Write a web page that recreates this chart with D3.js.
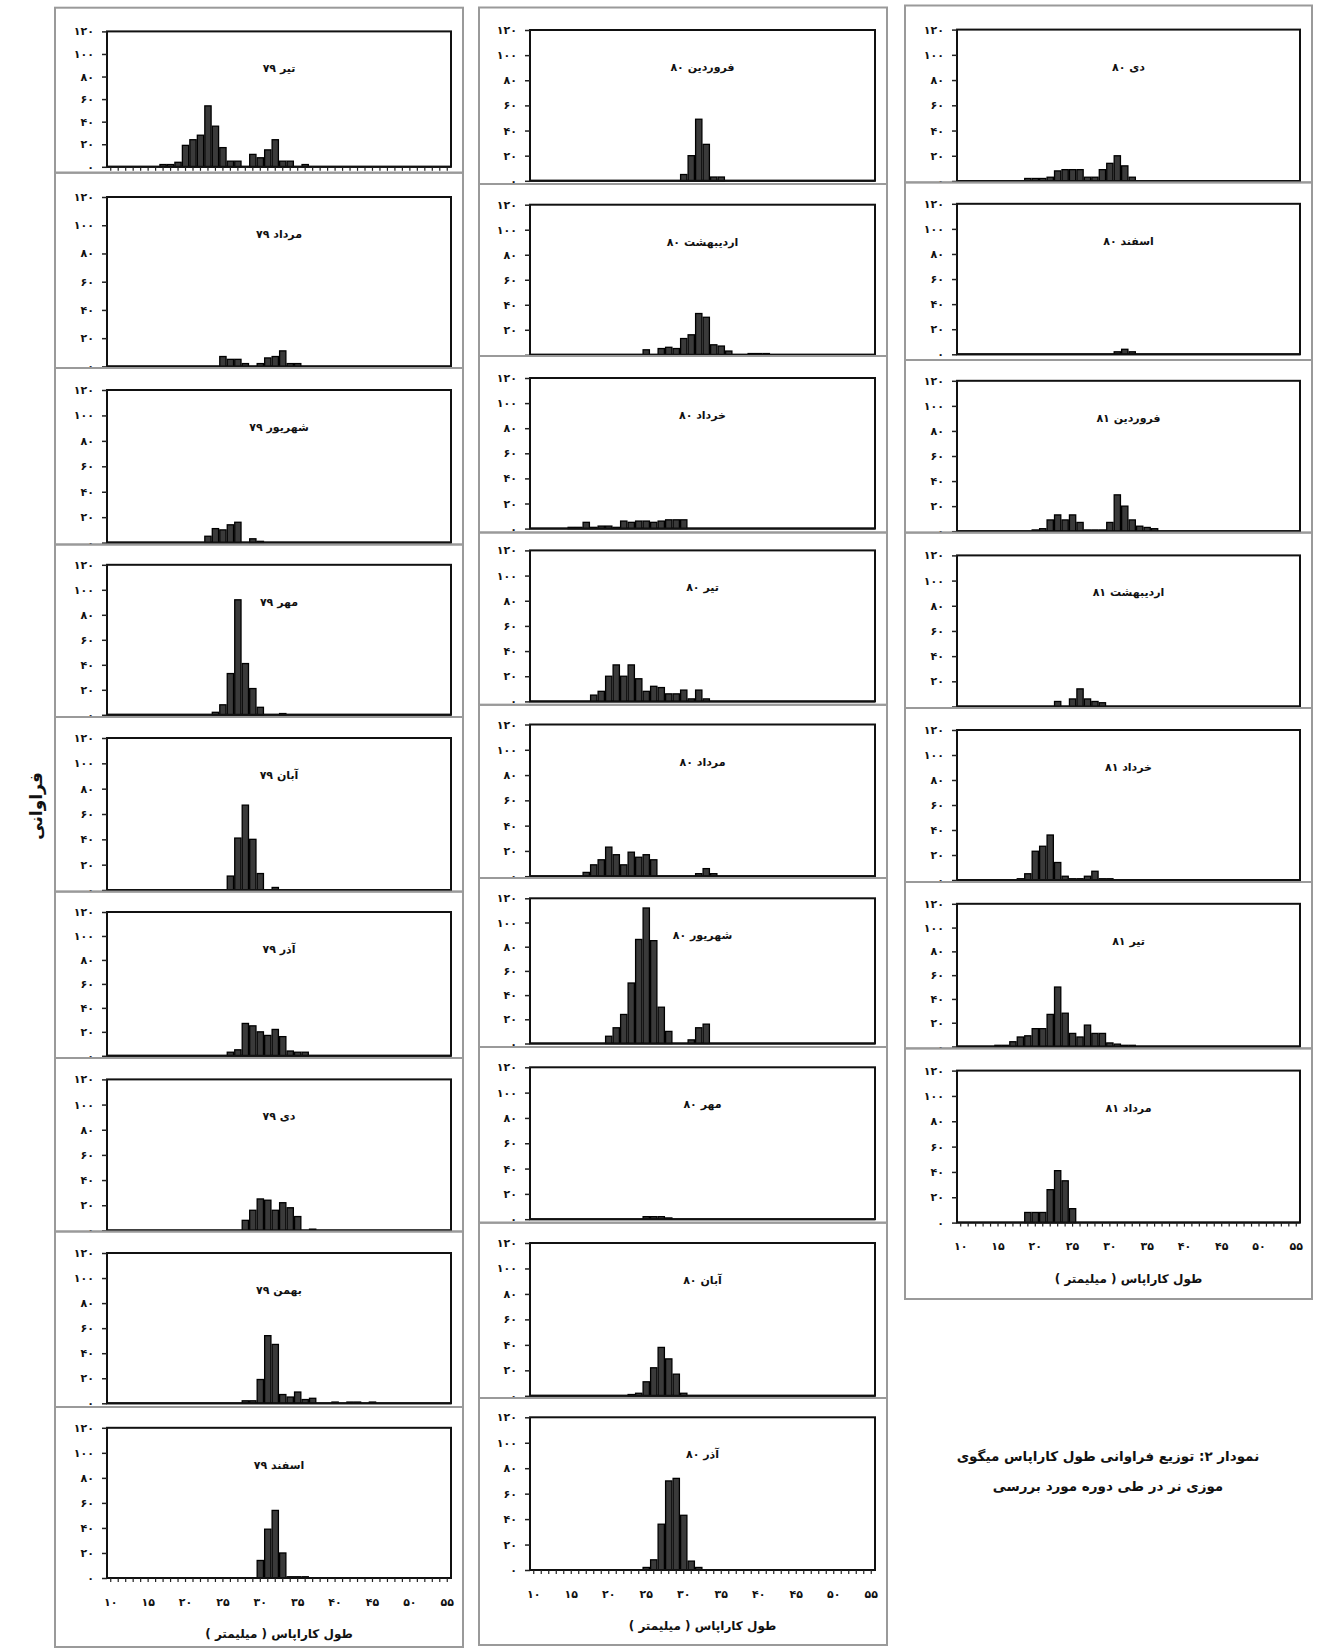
<!DOCTYPE html>
<html><head><meta charset="utf-8">
<script src="https://cdn.jsdelivr.net/npm/d3@7"></script>
<style>
body{margin:0;background:#fff}
svg text{font-family:"DejaVu Sans",sans-serif;font-weight:bold;fill:#111}
</style>
</head><body>
<svg id="chart" width="1318" height="1648"></svg>
<script>
// ---------- DATA ----------
const lengthCategories = [10,11,12,13,14,15,16,17,18,19,20,21,22,23,24,25,26,27,28,29,30,31,32,33,34,35,36,37,38,39,40,41,42,43,44,45,46,47,48,49,50,51,52,53,54,55];
const xTickValues = [10,15,20,25,30,35,40,45,50,55];
const xTickLabels = ['۱۰','۱۵','۲۰','۲۵','۳۰','۳۵','۴۰','۴۵','۵۰','۵۵'];
const yTickValues = [0,20,40,60,80,100,120];
const yTickLabels = ['۰','۲۰','۴۰','۶۰','۸۰','۱۰۰','۱۲۰'];

const panelTitles = [
  'تیر ۷۹','مرداد ۷۹','شهریور ۷۹','مهر ۷۹','آبان ۷۹','آذر ۷۹','دی ۷۹','بهمن ۷۹','اسفند ۷۹',
  'فروردین ۸۰','اردیبهشت ۸۰','خرداد ۸۰','تیر ۸۰','مرداد ۸۰','شهریور ۸۰','مهر ۸۰','آبان ۸۰','آذر ۸۰',
  'دی ۸۰','اسفند ۸۰','فروردین ۸۱','اردیبهشت ۸۱','خرداد ۸۱','تیر ۸۱','مرداد ۸۱'
];

// [carapace length (mm), frequency]
const tir79 = [[17,2],[18,2],[19,4],[20,19],[21,24],[22,28],[23,54],[24,36],[25,17],[26,5],[27,5],[29,11],[30,8],[31,15],[32,24],[33,5],[34,5],[36,2]];
const mordad79 = [[25,7],[26,5],[27,5],[28,2],[30,2],[31,6],[32,7],[33,11],[34,2],[35,2]];
const shahrivar79 = [[23,5],[24,11],[25,10],[26,14],[27,16],[29,3],[30,1]];
const mehr79 = [[24,2],[25,8],[26,33],[27,92],[28,41],[29,21],[30,6],[33,1]];
const aban79 = [[26,11],[27,41],[28,67],[29,40],[30,13],[32,2]];
const azar79 = [[26,3],[27,5],[28,27],[29,25],[30,20],[31,17],[32,22],[33,16],[34,4],[35,3],[36,3]];
const dey79 = [[28,8],[29,16],[30,25],[31,24],[32,16],[33,22],[34,18],[35,11],[37,1]];
const bahman79 = [[28,2],[29,2],[30,19],[31,54],[32,47],[33,7],[34,5],[35,9],[36,3],[37,4],[40,1],[42,1],[43,1],[45,1]];
const esfand79 = [[30,14],[31,39],[32,54],[33,20],[34,1],[35,1],[36,1]];

const farvardin80 = [[30,5],[31,20],[32,49],[33,29],[34,3],[35,3]];
const ordibehesht80 = [[25,4],[27,5],[28,6],[29,5],[30,13],[31,16],[32,33],[33,30],[34,8],[35,7],[36,3],[39,1],[40,1],[41,1]];
const khordad80 = [[15,1],[16,1],[17,5],[18,1],[19,2],[20,2],[21,1],[22,6],[23,5],[24,6],[25,6],[26,5],[27,6],[28,7],[29,7],[30,7]];
const tir80 = [[18,5],[19,8],[20,20],[21,29],[22,20],[23,29],[24,18],[25,8],[26,12],[27,11],[28,6],[29,6],[30,9],[31,2],[32,9],[33,2]];
const mordad80 = [[17,3],[18,9],[19,13],[20,23],[21,17],[22,9],[23,19],[24,15],[25,17],[26,13],[32,2],[33,6],[34,2]];
const shahrivar80 = [[20,6],[21,13],[22,24],[23,50],[24,86],[25,112],[26,85],[27,30],[28,10],[31,3],[32,13],[33,16]];
const mehr80 = [[25,2],[26,2],[27,2],[28,1]];
const aban80 = [[23,1],[24,2],[25,11],[26,22],[27,38],[28,29],[29,17],[30,2]];
const azar80 = [[25,2],[26,8],[27,36],[28,70],[29,72],[30,43],[31,7],[32,2]];

const dey80 = [[19,2],[20,2],[21,2],[22,3],[23,8],[24,9],[25,9],[26,9],[27,3],[28,3],[29,9],[30,14],[31,20],[32,12],[33,3]];
const esfand80 = [[31,2],[32,4],[33,2]];
const farvardin81 = [[20,1],[21,2],[22,9],[23,13],[24,9],[25,13],[26,7],[27,1],[28,1],[29,1],[30,7],[31,29],[32,20],[33,9],[34,4],[35,3],[36,2]];
const ordibehesht81 = [[23,4],[25,6],[26,14],[27,6],[28,4],[29,3]];
const khordad81 = [[18,1],[19,5],[20,23],[21,27],[22,36],[23,14],[24,3],[25,1],[26,1],[27,3],[28,7],[29,1],[30,1]];
const tir81 = [[15,1],[16,1],[17,4],[18,8],[19,9],[20,15],[21,15],[22,27],[23,50],[24,28],[25,11],[26,8],[27,18],[28,11],[29,11],[30,3],[31,2],[32,1],[33,1]];
const mordad81 = [[19,8],[20,8],[21,8],[22,26],[23,41],[24,33],[25,11]];

const panelSeries = [tir79,mordad79,shahrivar79,mehr79,aban79,azar79,dey79,bahman79,esfand79,
  farvardin80,ordibehesht80,khordad80,tir80,mordad80,shahrivar80,mehr80,aban80,azar80,
  dey80,esfand80,farvardin81,ordibehesht81,khordad81,tir81,mordad81];

const xTitle = 'طول کاراپاس ( میلیمتر )';
const yTitle = 'فراوانی';
const captionLines = ['نمودار ۲: توزیع فراوانی طول کاراپاس میگوی','موزی نر در طی دوره مورد بررسی'];

// ---------- LAYOUT ----------
// each panel: [frameTop, frameBottom, plotTop, plotBottom]
const columns = [
  {frameX:[55,463], plotX:[107,451], panels:[
    [7.7,172.7,31.4,166.8],[172.7,368,197,366.4],[368,544.5,390,542.6],[544.5,717,564.8,714.8],
    [717,891.6,738,890],[891.6,1058,912,1055.8],[1058,1231.5,1079.4,1230.4],[1231.5,1407,1253,1403.3],
    [1407,1647,1427.8,1578]]},
  {frameX:[479,887], plotX:[530,875], panels:[
    [7.5,184,30,180.8],[184,356,204.7,354.8],[356,532.5,378,528.6],[532.5,704.8,550.4,701.4],
    [704.8,878,724.5,876.2],[878,1047,898.3,1043.5],[1047,1222.7,1067.3,1219.2],[1222.7,1398,1243,1395.8],
    [1398,1645,1417.3,1570]]},
  {frameX:[905,1312], plotX:[957,1300], panels:[
    [5.5,182.4,29.6,181],[182.4,360,203.8,354.3],[360,532.6,380.8,531.2],[532.6,708,555.4,706.5],
    [708,882,730,880],[882,1048.4,903.8,1046.5],[1048.4,1299,1070.6,1222.6]]}
];

const svg = d3.select('#chart');
let idx = 0;

columns.forEach((col, ci) => {
  const g = svg.append('g');
  const x = d3.scaleBand().domain(lengthCategories).range(col.plotX).paddingInner(0.16).paddingOuter(0.08);
  col.panels.forEach((p, pi) => {
    const [ft, fb, pt, pb] = p;
    const series = panelSeries[idx];
    const title = panelTitles[idx];
    idx++;
    const isLast = pi === col.panels.length - 1;
    // frame
    g.append('rect').attr('x', col.frameX[0]).attr('y', ft)
      .attr('width', col.frameX[1]-col.frameX[0]).attr('height', fb-ft)
      .attr('fill','none').attr('stroke','#9a9a9a').attr('stroke-width',2);
    const y = d3.scaleLinear().domain([0,120]).range([pb, pt]);
    const pg = g.append('g');
    // plot box
    pg.append('rect').attr('x', col.plotX[0]).attr('y', pt)
      .attr('width', col.plotX[1]-col.plotX[0]).attr('height', pb-pt)
      .attr('fill','#fff').attr('stroke','#111').attr('stroke-width',2);
    // y axis
    const ya = pg.append('g').attr('transform', `translate(${col.plotX[0]},0)`)
      .call(d3.axisLeft(y).tickValues(yTickValues)
        .tickFormat((d,i) => yTickLabels[i]).tickSize(5).tickPadding(8));
    ya.select('.domain').remove();
    ya.selectAll('line').attr('stroke','#222').attr('stroke-width',1.5);
    ya.selectAll('text').attr('font-size',11).attr('letter-spacing',2.5)
      .attr('font-family','"DejaVu Sans",sans-serif').attr('font-weight','bold').attr('fill','#222');
    // bars
    pg.selectAll('rect.bar').data(series).enter().append('rect').attr('class','bar')
      .attr('x', d => x(d[0])).attr('width', x.bandwidth())
      .attr('y', d => y(d[1])).attr('height', d => y(0) - y(d[1]))
      .attr('fill','#3a3a3a').attr('stroke','#000').attr('stroke-width',1.3);
    // baseline
    pg.append('line').attr('x1', col.plotX[0]).attr('x2', col.plotX[1])
      .attr('y1', pb).attr('y2', pb).attr('stroke','#111').attr('stroke-width',2);
    // x axis ticks (first panel of column 1 and bottom panels)
    if (isLast || (ci === 0 && pi === 0)) {
      const xa = pg.append('g').attr('transform', `translate(0,${pb})`)
        .call(d3.axisBottom(x).tickSize(4).tickPadding(16)
          .tickFormat(d => isLast ? (xTickValues.indexOf(d) >= 0 ? xTickLabels[xTickValues.indexOf(d)] : '') : ''));
      xa.select('.domain').remove();
      xa.selectAll('line').attr('stroke','#222').attr('stroke-width',1.2);
      xa.selectAll('text').attr('font-size',11).attr('letter-spacing',2.5)
        .attr('font-family','"DejaVu Sans",sans-serif').attr('font-weight','bold').attr('fill','#222');
      if (isLast) {
        pg.append('text').attr('x', (col.plotX[0]+col.plotX[1])/2).attr('y', pb + 60)
          .attr('text-anchor','middle').attr('font-size',12).text(xTitle);
      }
    }
    // panel title
    pg.append('text').attr('x', (col.plotX[0]+col.plotX[1])/2).attr('y', pt + 41)
      .attr('text-anchor','middle').attr('font-size',11).attr('direction','rtl').text(title);
  });
});

// y title
svg.append('text').attr('transform','translate(42,806) rotate(-90)')
  .attr('text-anchor','middle').attr('font-size',17).text(yTitle);

// caption
captionLines.forEach((t, i) => {
  svg.append('text').attr('x', 1108).attr('y', 1461 + i*30)
    .attr('text-anchor','middle').attr('font-size',13.5).attr('direction','rtl').text(t);
});
</script>
</body></html>
